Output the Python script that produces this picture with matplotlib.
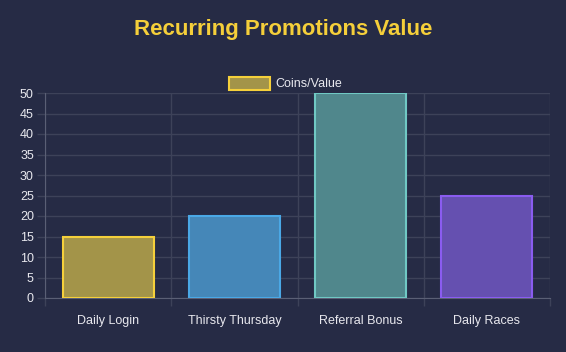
import matplotlib
matplotlib.use("Agg")
import matplotlib.pyplot as plt
import numpy as np
from matplotlib.patches import Rectangle

categories = ["Daily Login", "Thirsty Thursday", "Referral Bonus", "Daily Races"]
values = [15, 20, 50, 25]
y_ticks = [0, 5, 10, 15, 20, 25, 30, 35, 40, 45, 50]
series_label = "Coins/Value"
title = "Recurring Promotions Value"

fill_colors = ["#a39449", "#4587b8", "#50878c", "#6550b0"]
edge_colors = ["#f5d03b", "#4aa8e6", "#70c8c4", "#8a5cf0"]

plt.rcParams["font.family"] = ["Liberation Sans", "DejaVu Sans"]

bg = "#262b45"
grid_c = "#3d4259"
text_c = "#e8e8ee"

fig = plt.figure(figsize=(5.66, 3.52), dpi=100)
fig.patch.set_facecolor(bg)
W, H = 566, 352
left, right, top, bottom = 45, 550, 93, 298
ax = fig.add_axes([left / W, 1 - bottom / H, (right - left) / W, (bottom - top) / H])
ax.set_facecolor(bg)

x = np.arange(len(categories))
ax.bar(x, values, width=0.72, color=fill_colors, edgecolor=edge_colors, linewidth=1.5, zorder=3)

ax.set_xlim(-0.5, len(categories) - 0.5)
ax.set_ylim(0, 50)
ax.set_yticks(y_ticks)
ax.set_yticklabels([str(v) for v in y_ticks], color=text_c, fontsize=9)
ax.set_xticks(x)
ax.set_xticklabels(categories, color=text_c, fontsize=9)
ax.set_xticks(np.arange(len(categories) + 1) - 0.5, minor=True)
ax.tick_params(axis="x", which="major", length=0, pad=12)
ax.tick_params(axis="x", which="minor", length=6, color=grid_c, width=1)
ax.tick_params(axis="y", which="major", length=6, color=grid_c, width=1, pad=2)
ax.grid(True, axis="y", color=grid_c, linewidth=1, zorder=0)
ax.grid(True, axis="x", which="minor", color=grid_c, linewidth=1, zorder=0)
for s in ["top", "right"]:
    ax.spines[s].set_visible(False)
ax.spines["left"].set_color("#5a5f75")
ax.spines["bottom"].set_color("#5a5f75")

fig.text(0.5, 1 - 29 / H, title, ha="center", va="center", color="#f5cf3a",
         fontsize=16, fontweight="bold")

fig.patches.append(Rectangle((229 / W, 1 - 90 / H), 41 / W, 13 / H, transform=fig.transFigure,
                             facecolor=fill_colors[0], edgecolor=edge_colors[0], linewidth=1.5))
fig.text(275 / W, 1 - 84 / H, series_label, ha="left", va="center", color=text_c, fontsize=9)

fig.savefig("out.png", dpi=100, facecolor=bg)
